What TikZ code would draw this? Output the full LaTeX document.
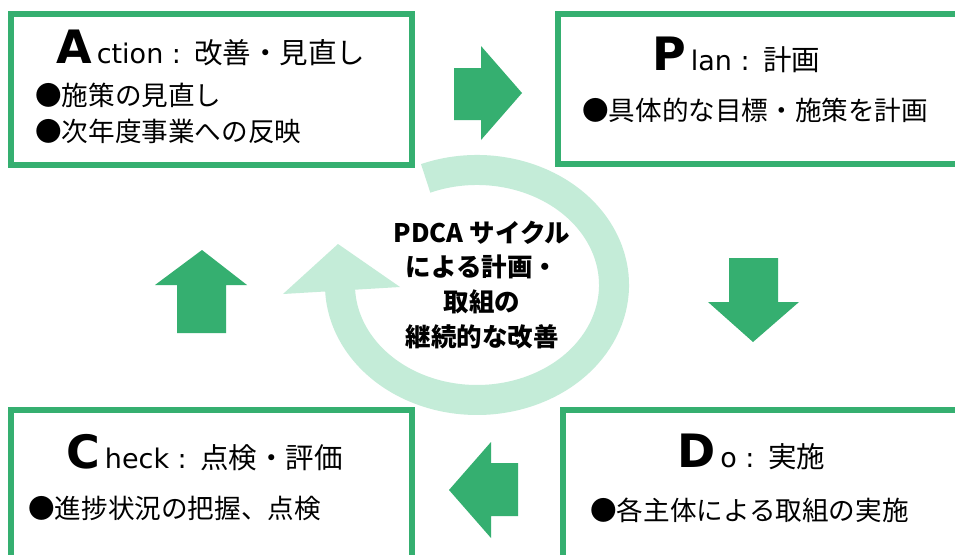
\documentclass[tikz,border=0pt]{standalone}
\usepackage{fontspec}
\setmainfont{Noto Sans CJK JP}
\newfontfamily\latinfont{DejaVu Sans}
\definecolor{pgreen}{HTML}{35AF70}
\definecolor{lgreen}{HTML}{C4ECD8}
\newcommand\capfont{\latinfont\fontsize{46}{50}\selectfont\bfseries}
\newcommand\latfont{\latinfont\fontsize{27}{30}\selectfont}
\newcommand\ttlfont{\fontsize{28.5}{30}\selectfont}
\newcommand\bulfont{\fontsize{26.6}{28}\selectfont}
\newcommand\ctrfont{\fontsize{25.5}{28}\selectfont\bfseries}
\begin{document}
\begin{tikzpicture}[x=1pt,y=-1pt,
  box/.style={draw=pgreen, line width=6pt, fill=white, inner sep=0pt},
  blockarrow/.style={fill=pgreen, draw=none},
  ring/.style={draw=lgreen, line width=30pt},
  txt/.style={inner sep=0pt, anchor=base west},
  ctr/.style={inner sep=0pt, anchor=base, font=\ctrfont},
  ]
\useasboundingbox (0,0) rectangle (955,554);
\clip (0,0) rectangle (955,554);
\fill[white] (0,0) rectangle (955,554);
% cycle ring
\draw[ring] (477,285) ++(-112:137 and 115) arc[start angle=-112, end angle=179, x radius=137, y radius=115];
\fill[lgreen] (283,294) -- (338,244) -- (400,287) -- cycle;
% boxes
\node[box, minimum width=401pt, minimum height=151pt] (action) at (211.5,89.5) {};
\node[box, minimum width=442pt, minimum height=150pt] (plan) at (779,89) {};
\node[box, minimum width=401pt, minimum height=190pt] (check) at (211.5,505) {};
\node[box, minimum width=437pt, minimum height=190pt] (do) at (781.5,505) {};
% block arrows
\fill[blockarrow] (454,68) -- (481,68) -- (481,46) -- (522,93) -- (481,140) -- (481,120) -- (454,120) -- cycle;
\fill[blockarrow] (729,258) -- (778,258) -- (778,302) -- (799,302) -- (753,342) -- (708,302) -- (729,302) -- cycle;
\fill[blockarrow] (518,463) -- (491,463) -- (491,442) -- (449,490) -- (491,538) -- (491,516) -- (518,516) -- cycle;
\fill[blockarrow] (177,333) -- (177,285) -- (155,285) -- (202,250) -- (247,285) -- (226,285) -- (226,333) -- cycle;
% titles
\node[txt] (atitle) at (56,63) {{\capfont A}\hspace{5pt}{\latfont ction : }\hspace{2pt}{\ttlfont 改善・見直し}};
\node[txt] (ptitle) at (652,70) {{\capfont P}\hspace{5pt}{\latfont lan : }\hspace{2pt}{\ttlfont 計画}};
\node[txt] (ctitle) at (66,468) {{\capfont C}\hspace{5pt}{\latfont heck : }\hspace{2pt}{\ttlfont 点検・評価}};
\node[txt] (dtitle) at (677,467) {{\capfont D}\hspace{5pt}{\latfont o : }\hspace{2pt}{\ttlfont 実施}};
% bullets
\node[txt, font=\bulfont] (a1) at (35,105) {●施策の見直し};
\node[txt, font=\bulfont] (a2) at (35,141) {●次年度事業への反映};
\node[txt, font=\bulfont] (p1) at (582,120) {●具体的な目標・施策を計画};
\node[txt, font=\bulfont] (c1) at (28,518) {●進捗状況の把握、点検};
\node[txt, font=\bulfont] (d1) at (590,520) {●各主体による取組の実施};
% centre text
\node[ctr] (l1) at (482,242) {PDCA サイクル};
\node[ctr] (l2) at (482,276) {による計画・};
\node[ctr] (l3) at (482,311) {取組の};
\node[ctr] (l4) at (482,346) {継続的な改善};
\end{tikzpicture}
\end{document}
